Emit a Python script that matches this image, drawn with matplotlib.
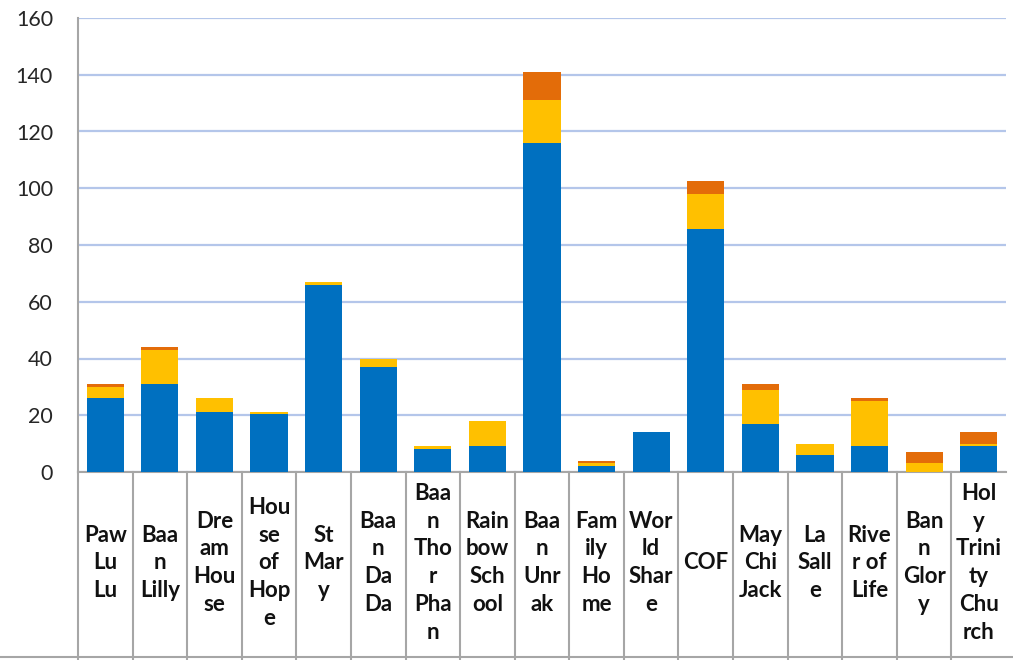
import numpy as np
import matplotlib
matplotlib.use("Agg")
import matplotlib.pyplot as plt
from matplotlib.lines import Line2D
import matplotlib.transforms as mtransforms

# Data
labels = ["Paw\nLu\nLu", "Baa\nn\nLilly", "Dre\nam\nHou\nse", "Hou\nse\nof\nHop\ne",
          "St\nMar\ny", "Baa\nn\nDa\nDa", "Baa\nn\nTho\nr\nPha\nn", "Rain\nbow\nSch\nool",
          "Baa\nn\nUnr\nak", "Fam\nily\nHo\nme", "Wor\nld\nShar\ne", "COF",
          "May\nChi\nJack", "La\nSall\ne", "Rive\nr of\nLife", "Ban\nn\nGlor\ny",
          "Hol\ny\nTrini\nty\nChu\nrch"]
blue = [26, 31, 21, 20.5, 66, 37, 8, 9, 116, 2, 14, 85.5, 17, 6, 9, 0, 9]
yellow = [4, 12, 5, 0.5, 1, 3, 1, 9, 15, 1, 0, 12.5, 12, 4, 16, 3, 1]
orange = [1, 1, 0, 0, 0, 0, 0, 0, 10, 1, 0, 4.5, 2, 0, 1, 4, 4]
yticks = [0, 20, 40, 60, 80, 100, 120, 140, 160]

C_BLUE = "#0070C0"
C_YELLOW = "#FFC000"
C_ORANGE = "#E36C09"
C_GRID = "#B4C6EA"
C_AXIS = "#A6A6A6"

fig = plt.figure(figsize=(10.13, 6.6), dpi=100)
ax = fig.add_axes([78 / 1013, 1 - 472 / 660, 928 / 1013, 454 / 660])

x = np.arange(len(labels))
blue = np.array(blue, dtype=float)
yellow = np.array(yellow, dtype=float)
orange = np.array(orange, dtype=float)

w = 0.68
ax.bar(x, blue, width=w, color=C_BLUE, zorder=3)
ax.bar(x, yellow, width=w, bottom=blue, color=C_YELLOW, zorder=3)
ax.bar(x, orange, width=w, bottom=blue + yellow, color=C_ORANGE, zorder=3)

ax.set_xlim(-0.5, len(labels) - 0.5)
ax.set_ylim(0, 160)
ax.set_yticks(yticks)
ax.set_yticklabels([str(t) for t in yticks], fontsize=15.5, family="Lato", color="#262626")
ax.tick_params(axis="y", length=0, pad=18)
ax.set_xticks([])
ax.yaxis.grid(True, color=C_GRID, linewidth=1.6, zorder=0)
ax.set_axisbelow(True)

for s in ["top", "right"]:
    ax.spines[s].set_visible(False)
ax.spines["left"].set_color(C_AXIS)
ax.spines["left"].set_linewidth(1.5)
ax.spines["bottom"].set_color(C_AXIS)
ax.spines["bottom"].set_linewidth(1.5)

# table-like category area under the axis
trans = mtransforms.blended_transform_factory(ax.transData, ax.transAxes)
for i in range(len(labels)):
    ax.add_line(Line2D([i - 0.5, i - 0.5], [0, -0.5], transform=trans,
                       color=C_AXIS, linewidth=1.5, clip_on=False))
    ax.text(i, -0.2, labels[i], transform=trans, ha="center", va="center",
            fontsize=16, family="Lato", fontweight="bold", color="#111111",
            linespacing=1.4, clip_on=False)

fig.add_artist(Line2D([0, 1], [1 - 657 / 660, 1 - 657 / 660], color=C_AXIS,
                      linewidth=1.5, transform=fig.transFigure))

fig.savefig("out.png", dpi=100)
